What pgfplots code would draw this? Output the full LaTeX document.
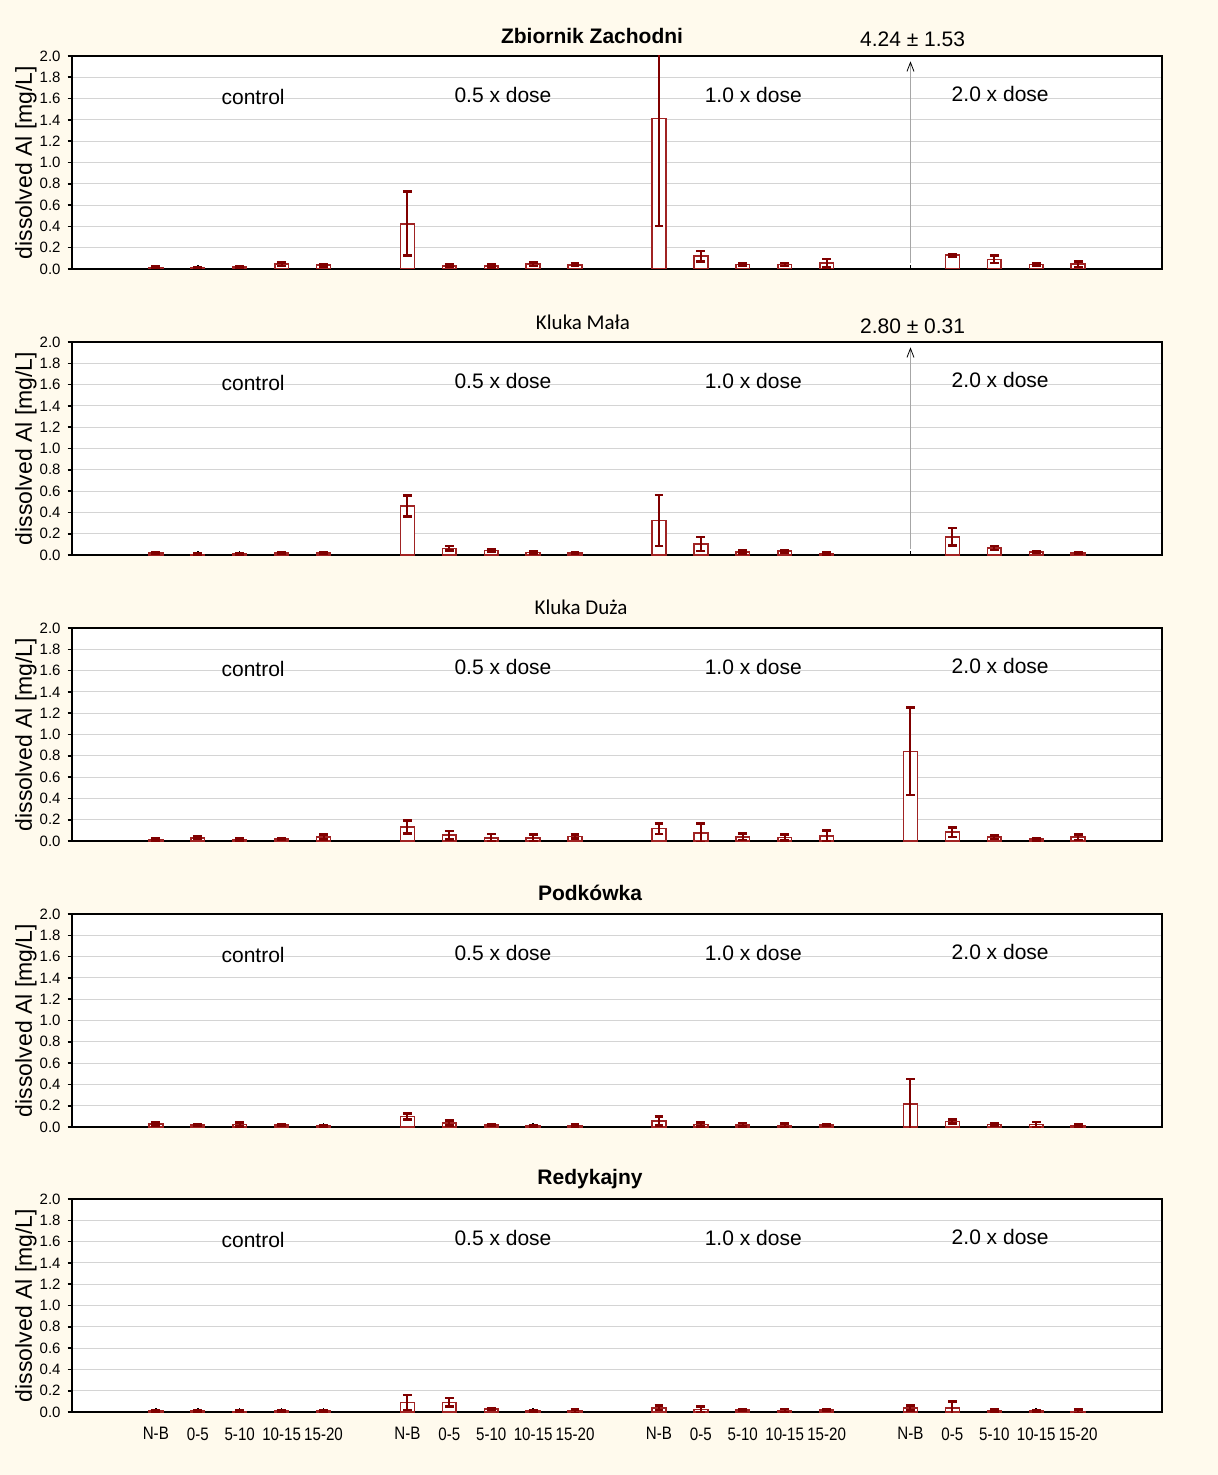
\documentclass[border=0pt]{standalone}
\usepackage{pgfplots}
\pgfplotsset{compat=1.18}
\usepackage{fontspec}
\setmainfont{Liberation Sans}
\newfontfamily\carlito{Carlito}
\newfontfamily\narrowfont[FakeStretch=0.84]{Liberation Sans}
\usetikzlibrary{arrows.meta}
\definecolor{bgcream}{RGB}{255,250,237}
\definecolor{barred}{RGB}{160,35,35}
\definecolor{errred}{RGB}{128,0,0}
\definecolor{gridgray}{RGB}{212,212,212}

\pgfplotsset{
 panel/.style={
  scale only axis, width=545pt, height=106.5pt,
  anchor=south west,
  xmin=-2, xmax=24, ymin=0, ymax=2,
  ytick={0,0.2,0.4,0.6,0.8,1.0,1.2,1.4,1.6,1.8,2.0},
  /pgf/number format/assume math mode=true,
  y tick label style={/pgf/number format/fixed,/pgf/number format/fixed zerofill,/pgf/number format/precision=1},
  ymajorgrids, grid style={gridgray, line width=0.5pt},
  xtick={0,1,2,3,4,6,7,8,9,10,12,13,14,15,16,18,19,20,21,22},
  xticklabels={},
  xtick pos=bottom, ytick pos=left,
  tick align=outside, major tick length=2.2pt,
  xtick style={yshift=2.2pt},
  tick style={black, line width=0.8pt},
  axis line style={line width=1pt},
  axis background/.style={fill=white},
  clip mode=individual,
  ylabel={dissolved Al [mg/L]},
  ylabel style={font=\fontsize{11.5}{13}\selectfont, at={([xshift=-23pt]axis description cs:0,0.5)}, anchor=center},
  tick label style={font=\fontsize{7.5}{9}\selectfont},
 },
 bars/.style={ybar, bar width=0.33, fill=white, draw=barred, line width=0.8pt,
  error bars/.cd, y dir=both, y explicit,
  error bar style={color=errred, line width=1pt},
  error mark=|,
  error mark options={color=errred, mark size=2.2pt, line width=1.3pt}},
 offscale/.style={gray!70, line width=0.4pt, -{Straight Barb[length=4.5pt,width=3.5pt,color=black]}},
}
\newcommand\grouplabels{%
  \node[font=\fontsize{10.5}{12}\selectfont] at (axis cs:2.32,1.615) {control};
  \node[font=\fontsize{10.5}{12}\selectfont] at (axis cs:8.28,1.635) {0.5 x dose};
  \node[font=\fontsize{10.5}{12}\selectfont] at (axis cs:14.25,1.635) {1.0 x dose};
  \node[font=\fontsize{10.5}{12}\selectfont] at (axis cs:20.14,1.64) {2.0 x dose};
}

\begin{document}
\begin{tikzpicture}
\fill[bgcream] (0,0) rectangle (609pt,-737.5pt);
\useasboundingbox (0,0) rectangle (609pt,-737.5pt);

% Panel 1: Zbiornik Zachodni
\begin{axis}[panel, at={(36pt,-134.5pt)}]
\addplot[bars] coordinates {
 (0,0.015) +- (0,0.008) (1,0.012) +- (0,0.005) (2,0.018) +- (0,0.008) (3,0.045) +- (0,0.015) (4,0.035) +- (0,0.012)
 (6,0.425) +- (0,0.30) (7,0.03) +- (0,0.01) (8,0.028) +- (0,0.012) (9,0.045) +- (0,0.015) (10,0.04) +- (0,0.012)
 (12,1.415) +- (0,1.01) (13,0.12) +- (0,0.05) (14,0.042) +- (0,0.01) (15,0.042) +- (0,0.015) (16,0.055) +- (0,0.04)
 (19,0.13) +- (0,0.012) (20,0.09) +- (0,0.035) (21,0.043) +- (0,0.008) (22,0.045) +- (0,0.025)
};
\addplot[offscale] coordinates {(18,0.06) (18,1.95)};
\node[anchor=base, font=\fontsize{10.5}{12}\selectfont] at ([yshift=4.5pt]axis cs:18.05,2) {4.24 ± 1.53};
\grouplabels
\end{axis}

% Panel 2: Kluka Mała
\begin{axis}[panel, at={(36pt,-277.5pt)}]
\addplot[bars] coordinates {
 (0,0.02) +- (0,0.01) (1,0.005) +- (0,0.008) (2,0.01) +- (0,0.01) (3,0.02) +- (0,0.008) (4,0.02) +- (0,0.008)
 (6,0.46) +- (0,0.10) (7,0.062) +- (0,0.022) (8,0.042) +- (0,0.008) (9,0.025) +- (0,0.012) (10,0.02) +- (0,0.008)
 (12,0.325) +- (0,0.24) (13,0.103) +- (0,0.067) (14,0.03) +- (0,0.015) (15,0.035) +- (0,0.012) (16,0.015) +- (0,0.01)
 (19,0.17) +- (0,0.083) (20,0.066) +- (0,0.018) (21,0.03) +- (0,0.006) (22,0.02) +- (0,0.007)
};
\addplot[offscale] coordinates {(18,0.06) (18,1.95)};
\node[anchor=base, font=\fontsize{10.5}{12}\selectfont] at ([yshift=4.5pt]axis cs:18.05,2) {2.80 ± 0.31};
\grouplabels
\end{axis}

% Panel 3: Kluka Duża
\begin{axis}[panel, at={(36pt,-420.5pt)}]
\addplot[bars] coordinates {
 (0,0.013) +- (0,0.01) (1,0.03) +- (0,0.012) (2,0.015) +- (0,0.01) (3,0.02) +- (0,0.01) (4,0.038) +- (0,0.023)
 (6,0.132) +- (0,0.06) (7,0.054) +- (0,0.04) (8,0.03) +- (0,0.035) (9,0.03) +- (0,0.033) (10,0.042) +- (0,0.02)
 (12,0.117) +- (0,0.05) (13,0.076) +- (0,0.09) (14,0.038) +- (0,0.03) (15,0.032) +- (0,0.03) (16,0.047) +- (0,0.05)
 (18,0.842) +- (0,0.41) (19,0.082) +- (0,0.045) (20,0.035) +- (0,0.015) (21,0.018) +- (0,0.012) (22,0.035) +- (0,0.025)
};
\grouplabels
\end{axis}

% Panel 4: Podkówka
\begin{axis}[panel, at={(36pt,-563.5pt)}]
\addplot[bars] coordinates {
 (0,0.03) +- (0,0.015) (1,0.02) +- (0,0.007) (2,0.025) +- (0,0.02) (3,0.018) +- (0,0.008) (4,0.008) +- (0,0.012)
 (6,0.1) +- (0,0.027) (7,0.037) +- (0,0.024) (8,0.02) +- (0,0.007) (9,0.012) +- (0,0.005) (10,0.015) +- (0,0.01)
 (12,0.059) +- (0,0.042) (13,0.025) +- (0,0.018) (14,0.02) +- (0,0.016) (15,0.015) +- (0,0.02) (16,0.018) +- (0,0.01)
 (18,0.217) +- (0,0.235) (19,0.053) +- (0,0.02) (20,0.025) +- (0,0.012) (21,0.022) +- (0,0.025) (22,0.015) +- (0,0.012)
};
\grouplabels
\end{axis}

% Panel 5: Redykajny
\begin{axis}[panel, at={(36pt,-706pt)},
  xticklabels={N-B,0-5,5-10,10-15,15-20,N-B,0-5,5-10,10-15,15-20,N-B,0-5,5-10,10-15,15-20,N-B,0-5,5-10,10-15,15-20},
  x tick label style={font=\narrowfont\fontsize{9}{10.5}\selectfont, yshift=-2pt}]
\addplot[bars] coordinates {
 (0,0.01) +- (0,0.01) (1,0.01) +- (0,0.005) (2,0.005) +- (0,0.01) (3,0.01) +- (0,0.006) (4,0.01) +- (0,0.01)
 (6,0.09) +- (0,0.07) (7,0.09) +- (0,0.04) (8,0.028) +- (0,0.005) (9,0.012) +- (0,0.006) (10,0.008) +- (0,0.018)
 (12,0.04) +- (0,0.02) (13,0.022) +- (0,0.028) (14,0.018) +- (0,0.01) (15,0.012) +- (0,0.015) (16,0.018) +- (0,0.01)
 (18,0.038) +- (0,0.025) (19,0.04) +- (0,0.06) (20,0.016) +- (0,0.012) (21,0.01) +- (0,0.005) (22,0.005) +- (0,0.018)
};
\grouplabels
\end{axis}

% Titles
\node[font=\bfseries\fontsize{10.5}{12}\selectfont] at (296pt,-18pt) {Zbiornik Zachodni};
\node[font=\carlito\fontsize{10.5}{12}\selectfont] at (291.5pt,-161pt) {Kluka Mała};
\node[font=\carlito\fontsize{10.5}{12}\selectfont] at (290.5pt,-303.5pt) {Kluka Duża};
\node[font=\bfseries\fontsize{10.5}{12}\selectfont] at (295pt,-446.5pt) {Podkówka};
\node[font=\bfseries\fontsize{10.5}{12}\selectfont] at (295pt,-589.5pt) {Redykajny};
\end{tikzpicture}
\end{document}
